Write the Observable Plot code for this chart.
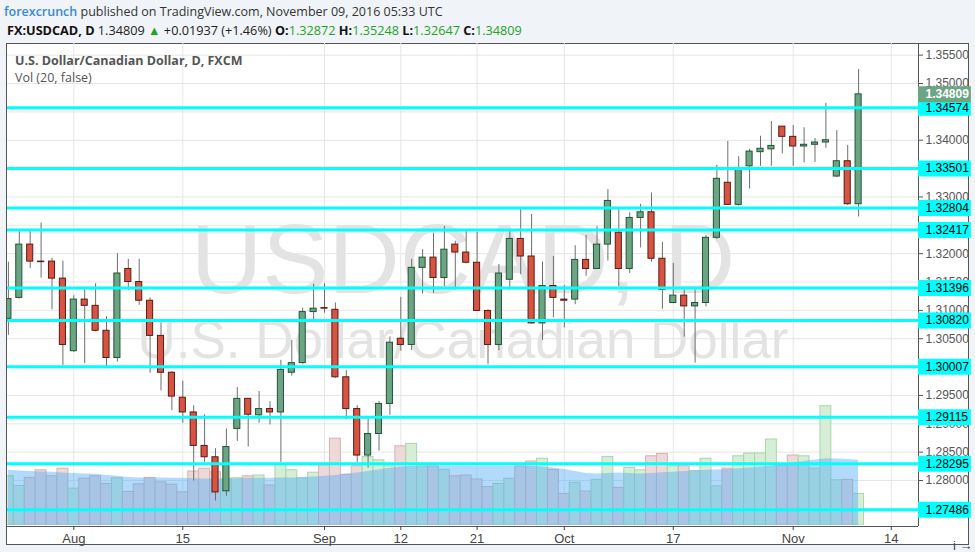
<!DOCTYPE html>
<html><head><meta charset="utf-8">
<script src="https://cdn.jsdelivr.net/npm/d3@7"></script>
<script src="https://cdn.jsdelivr.net/npm/@observablehq/plot@0.6"></script>
<style>
html,body{margin:0;padding:0;background:#f0f3f7;}
#wrap{position:relative;width:975px;height:552px;overflow:hidden;background:#f0f3f7;font-family:"Open Sans",sans-serif;}
#box{position:absolute;left:6px;top:43px;width:961px;height:500px;border:1px solid #555;background:#fff;}
.layer{position:absolute;left:0;top:0;}
.layer svg{overflow:visible;}
#h1{position:absolute;left:4px;top:3px;font-size:12.5px;color:#333;white-space:nowrap;}
#h1 .brand{color:#3a8bcb;font-weight:600;}
#h2{position:absolute;left:7px;top:21px;font-size:12.7px;color:#222;white-space:nowrap;}
#h2 b{font-weight:700;color:#111;}
#h2 .g{color:#1fa51f;}
#lg1{position:absolute;left:15px;top:52px;font-size:12.5px;font-weight:700;color:#555;white-space:nowrap;}
#lg2{position:absolute;left:15px;top:69px;font-size:12.5px;color:#555;white-space:nowrap;}
</style></head>
<body>
<div id="wrap">
  <div id="box"></div>
  <div class="layer" id="base"></div>
  <div class="layer" id="vol"></div>
  <div class="layer" id="price"></div>
  <div id="h1"></div>
  <div id="h2"></div>
  <div id="lg1"></div>
  <div id="lg2"></div>
</div>
<script>
// ---------- data ----------
const dates = ["2016-07-22","2016-07-25","2016-07-26","2016-07-27","2016-07-28","2016-07-29",
"2016-08-01","2016-08-02","2016-08-03","2016-08-04","2016-08-05","2016-08-08","2016-08-09","2016-08-10","2016-08-11","2016-08-12",
"2016-08-15","2016-08-16","2016-08-17","2016-08-18","2016-08-19","2016-08-22","2016-08-23","2016-08-24","2016-08-25","2016-08-26",
"2016-08-29","2016-08-30","2016-08-31","2016-09-01","2016-09-02","2016-09-05","2016-09-06","2016-09-07","2016-09-08","2016-09-09",
"2016-09-12","2016-09-13","2016-09-14","2016-09-15","2016-09-16","2016-09-19","2016-09-20","2016-09-21","2016-09-22","2016-09-23",
"2016-09-26","2016-09-27","2016-09-28","2016-09-29","2016-09-30","2016-10-03","2016-10-04","2016-10-05","2016-10-06","2016-10-07",
"2016-10-10","2016-10-11","2016-10-12","2016-10-13","2016-10-14","2016-10-17","2016-10-18","2016-10-19","2016-10-20","2016-10-21",
"2016-10-24","2016-10-25","2016-10-26","2016-10-27","2016-10-28","2016-10-31","2016-11-01","2016-11-02","2016-11-03","2016-11-04",
"2016-11-07","2016-11-08","2016-11-09"];
const futureDates = ["2016-11-10","2016-11-11","2016-11-14","2016-11-15","2016-11-16"];

const open = [1.3085,1.3122,1.3216,1.3186,1.3186,1.3156,1.3028,1.3119,1.3108,1.3064,
1.3016,1.3173,1.3150,1.3117,1.3055,1.2990,1.2946,1.2920,1.2861,1.2841,
1.2781,1.2891,1.2944,1.2915,1.2926,1.2920,1.2990,1.3007,1.3097,1.3104,
1.3101,1.2982,1.2926,1.2844,1.2882,1.2935,1.3050,1.3039,1.3175,1.3193,
1.3157,1.3216,1.3202,1.3184,1.3099,1.3039,1.3154,1.3226,1.3195,1.3077,
1.3143,1.3119,1.3119,1.3189,1.3173,1.3216,1.3237,1.3173,1.3263,1.3273,
1.3191,1.3113,1.3126,1.3107,1.3113,1.3228,1.3325,1.3286,1.3354,1.3379,
1.3384,1.3424,1.3406,1.3389,1.3392,1.3396,1.3336,1.3363,1.32872];
const high = [1.3185,1.3240,1.3240,1.3254,1.3192,1.3187,1.3126,1.3137,1.3147,1.3089,
1.3200,1.3190,1.3190,1.3122,1.3078,1.2992,1.2975,1.2932,1.2916,1.2856,
1.2891,1.2964,1.2944,1.2957,1.2939,1.3012,1.3047,1.3104,1.3146,1.3147,
1.3113,1.2994,1.2932,1.2909,1.2939,1.3053,1.3123,1.3190,1.3207,1.3236,
1.3248,1.3222,1.3239,1.3238,1.3101,1.3181,1.3239,1.3278,1.3269,1.3185,
1.3195,1.3144,1.3214,1.3232,1.3248,1.3313,1.3278,1.3272,1.3287,1.3307,
1.3220,1.3183,1.3136,1.3136,1.3232,1.3356,1.3398,1.3371,1.3384,1.3407,
1.3433,1.3424,1.3426,1.3422,1.3403,1.3465,1.3417,1.3391,1.35248];
const low = [1.3056,1.3120,1.3174,1.3157,1.3101,1.3003,1.3026,1.3006,1.3062,1.2997,
1.3009,1.3135,1.3109,1.2989,1.2958,1.2923,1.2901,1.2799,1.2832,1.2764,
1.2772,1.2869,1.2859,1.2901,1.2898,1.2832,1.2984,1.3005,1.3079,1.3095,
1.2980,1.2907,1.2832,1.2822,1.2852,1.2915,1.3028,1.3029,1.3129,1.3130,
1.3142,1.3136,1.3182,1.3098,1.3004,1.3029,1.3136,1.3163,1.3076,1.3047,
1.3087,1.3069,1.3110,1.3160,1.3172,1.3187,1.3142,1.3165,1.3210,1.3185,
1.3102,1.3112,1.3053,1.3007,1.3106,1.3225,1.3285,1.3284,1.3314,1.3354,
1.3354,1.3376,1.3354,1.3360,1.3361,1.3386,1.3334,1.3285,1.32647];
const close = [1.3120,1.3216,1.3186,1.3185,1.3156,1.3039,1.3119,1.3108,1.3064,1.3016,
1.3165,1.3150,1.3117,1.3055,1.2990,1.2948,1.2920,1.2861,1.2841,1.2779,
1.2859,1.2944,1.2916,1.2926,1.2920,1.2995,1.3007,1.3097,1.3103,1.3103,
1.2982,1.2926,1.2844,1.2882,1.2935,1.3043,1.3039,1.3175,1.3193,1.3157,
1.3207,1.3202,1.3184,1.3099,1.3039,1.3165,1.3226,1.3195,1.3077,1.3143,
1.3122,1.3117,1.3189,1.3173,1.3216,1.3293,1.3173,1.3263,1.3273,1.3191,
1.3136,1.3126,1.3107,1.3113,1.3228,1.3332,1.3286,1.3351,1.3380,1.3385,
1.3390,1.3406,1.3389,1.3392,1.3396,1.3400,1.3363,1.32872,1.34809];
// tick volume (thousands)
const volume = [123,99,119,138,123,142,92,117,123,104,
118,84,103,119,108,102,83,135,142,133,
117,118,123,125,100,152,138,118,132,150,
217,127,148,171,163,148,198,204,148,148,
139,123,125,115,96,104,117,148,160,167,
139,79,107,85,114,171,94,144,138,173,
179,148,148,136,167,98,142,173,180,180,
215,150,175,173,142,298,113,114,79];
// 20-period volume moving average (thousands)
const volMA = [138,136,135,134,133,131,130,129,128,125,
123,120,119,119,119,118,118,117,116,116,
115,117,118,118,118,119,119,120,121,123,
125,128,131,135,139,143,146,148,148,148,
148,148,148,148,148,148,148,148,148,146,
144,140,135,130,129,130,131,130,129,130,
132,133,135,136,138,139,140,142,144,146,
149,153,156,160,164,167,166,165,163];

const levels = [1.34574,1.33501,1.32804,1.32417,1.31396,1.30820,1.30007,1.29115,1.28295,1.27486];
// price-axis ticks shown (those fully hidden under a level label are omitted)
const priceTicks = [1.280,1.285,1.290,1.295,1.305,1.310,1.315,1.320,1.330,1.340,1.350,1.355];
const gridTicks = [1.275,1.280,1.285,1.290,1.295,1.300,1.305,1.310,1.315,1.320,1.325,1.330,1.335,1.340,1.345,1.350,1.355];
const axisDates = ["2016-08-01","2016-08-15","2016-09-01","2016-09-12","2016-09-21","2016-10-03","2016-10-17","2016-11-01","2016-11-14"];
const axisLabels = ["Aug","15","Sep","12","21","Oct","17","Nov","14"];

const symbolTitle = "U.S. Dollar/Canadian Dollar, D, FXCM";
const volTitle = "Vol (20, false)";
const wmSymbol = "USDCAD, D";
const wmName = "U.S. Dollar/Canadian Dollar";

// ---------- build ----------
const calendar = dates.concat(futureDates);
const candles = dates.map((d, i) => ({
  i, date: d, open: open[i], high: high[i], low: low[i], close: close[i],
  volume: volume[i], ma: volMA[i], up: close[i] >= open[i]
}));
const axisIdx = axisDates.map(d => calendar.indexOf(d));
const last = candles[candles.length - 1];
const prev = candles[candles.length - 2];

const W = 975, H = 552;
const mL = 7, mR = 57, mT = 43, mB = 26;
const xDomain = [-0.0826, 83.495];
const yDomain = [1.27189, 1.35706];
const fmt5 = d3.format(".5f");
const GREEN = "#6ba583", GREEN_S = "#225437", RED = "#d75442", RED_S = "#5b1a13";
const axisFont = "Liberation Sans, Arial, sans-serif";

const common = {width: W, height: H, marginLeft: mL, marginRight: mR, marginTop: mT,
  style: {background: "transparent", overflow: "visible"}};

// base layer: grid + watermark
const base = Plot.plot({
  ...common, marginBottom: mB,
  x: {domain: xDomain, axis: null},
  y: {domain: yDomain, axis: null},
  marks: [
    Plot.gridY(gridTicks, {stroke: "#e6e6e6", strokeOpacity: 1}),
    Plot.gridX(axisIdx, {stroke: "#e6e6e6", strokeOpacity: 1}),
    Plot.text([wmSymbol], {frameAnchor: "middle", dy: -24, fontSize: 99, fill: "#e3e3e3", fontFamily: axisFont}),
    Plot.text([wmName], {frameAnchor: "middle", dy: 56, fontSize: 53, fill: "#e3e3e3", fontFamily: axisFont})
  ]
});
document.getElementById("base").append(base);

// volume layer
const vol = Plot.plot({
  ...common, marginBottom: mB + 1,
  x: {domain: xDomain, axis: null},
  y: {domain: [0, 1205], axis: null},
  marks: [
    Plot.rectY(candles, {x1: d => d.i - 0.5, x2: d => d.i + 0.5, y: "volume",
      fill: d => d.up ? "#d6edd6" : "#eed9d9", stroke: d => d.up ? "#a9d6a9" : "#d8b2b2",
      strokeWidth: 1, clip: true}),
    Plot.areaY(candles, {x: "i", y: "ma", fill: "#52adf7", fillOpacity: 0.45, clip: true})
  ]
});
document.getElementById("vol").append(vol);

// price layer
const xMax = xDomain[1];
const labelSpan = 4.85;
const price = Plot.plot({
  ...common, marginBottom: mB,
  x: {domain: xDomain, axis: null},
  y: {domain: yDomain, axis: null},
  marks: [
    Plot.ruleX(candles, {x: "i", y1: "low", y2: "high", stroke: "#6e6e6e", strokeWidth: 1, clip: true}),
    Plot.rect(candles, {x1: d => d.i - 0.28, x2: d => d.i + 0.28, y1: "open", y2: "close",
      fill: d => d.up ? GREEN : RED, stroke: d => d.up ? GREEN_S : RED_S, strokeWidth: 1, clip: true}),
    Plot.ruleY(levels, {stroke: "#00ffff", strokeWidth: 3}),
    Plot.ruleX([xMax], {stroke: "#555", strokeWidth: 1}),
    Plot.ruleY([yDomain[0]], {stroke: "#555", strokeWidth: 1}),
    Plot.axisY(priceTicks, {anchor: "right", tickSize: 4, tickPadding: 3, tickFormat: fmt5,
      fontSize: 12, color: "#555", fontFamily: axisFont}),
    Plot.axisX(axisIdx, {anchor: "bottom", tickSize: 4, tickPadding: 3,
      tickFormat: d => axisLabels[axisIdx.indexOf(d)], fontSize: 13, color: "#444", fontFamily: axisFont}),
    Plot.ruleY(levels, {x1: xMax, x2: xMax + labelSpan, stroke: "#00ffff", strokeWidth: 16, clip: false}),
    Plot.text(levels, {x: xMax, y: d => d, text: d => fmt5(d), dx: 7, textAnchor: "start",
      fill: "#000", fontSize: 12, fontFamily: axisFont, clip: false}),
    Plot.ruleY([last.close], {x1: xMax, x2: xMax + labelSpan, stroke: GREEN, strokeWidth: 16, clip: false}),
    Plot.text([last.close], {x: xMax, y: d => d, text: d => fmt5(d), dx: 7, textAnchor: "start",
      fill: "#fff", fontSize: 12, fontWeight: "bold", fontFamily: axisFont, clip: false})
  ]
});
document.getElementById("price").append(price);

// header & legend text
const chg = last.close - prev.close;
const pct = chg / prev.close * 100;
document.getElementById("h1").innerHTML =
  '<span class="brand">forexcrunch</span> published on TradingView.com, November 09, 2016 05:33 UTC';
document.getElementById("h2").innerHTML =
  '<b>FX:USDCAD, D</b> ' + fmt5(last.close) + ' <span class="g">&#9650;</span> +' + fmt5(chg) +
  ' (+' + pct.toFixed(2) + '%) <b>O:</b><span class="g">' + fmt5(last.open) +
  '</span> <b>H:</b><span class="g">' + fmt5(last.high) +
  '</span> <b>L:</b><span class="g">' + fmt5(last.low) +
  '</span> <b>C:</b><span class="g">' + fmt5(last.close) + '</span>';
document.getElementById("lg1").textContent = symbolTitle;
document.getElementById("lg2").textContent = volTitle;
</script>
</body></html>
